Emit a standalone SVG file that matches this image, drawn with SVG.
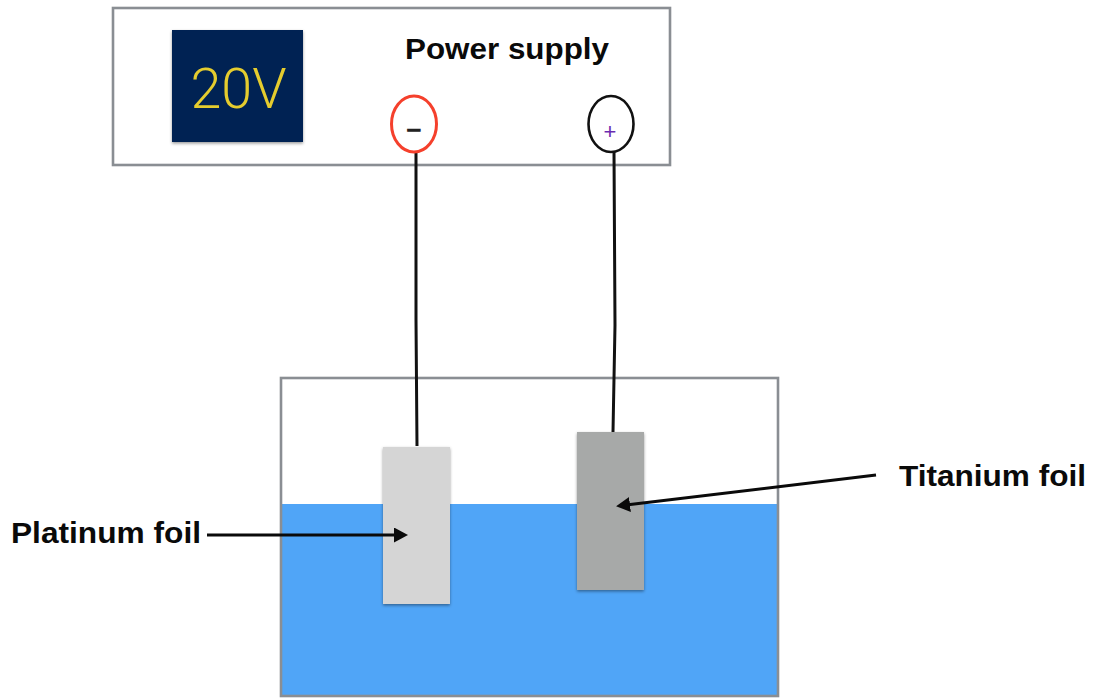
<svg xmlns="http://www.w3.org/2000/svg" width="1107" height="698" viewBox="0 0 1107 698">
<style>
.lbl{font-family:"Liberation Sans",Arial,sans-serif;font-weight:700;fill:#0a0a0a}
.frame{fill:none;stroke:#8a8e93;stroke-width:2.6}
.wire{fill:none;stroke:#111;stroke-width:3}
.arrow{fill:none;stroke:#0a0a0a;stroke-width:3}
</style>
<defs>
<filter id="sh" x="-20%" y="-20%" width="140%" height="140%"><feDropShadow dx="0" dy="1.5" stdDeviation="1.5" flood-color="#000" flood-opacity="0.4"/></filter>
<marker id="ah" markerUnits="userSpaceOnUse" markerWidth="16" markerHeight="16" refX="4" refY="7.5" orient="auto"><path d="M0 0L14 7.5L0 15Z" fill="#0a0a0a"/></marker>
</defs>
<rect width="1107" height="698" fill="#fff"/>
<g id="power-supply">
<rect class="frame" x="113" y="8" width="557" height="157"/>
<text class="lbl" x="507" y="59" font-size="30" text-anchor="middle" textLength="204" lengthAdjust="spacingAndGlyphs">Power supply</text>
</g>
<g id="display">
<rect x="172" y="30" width="131" height="112" fill="#012352" filter="url(#sh)"/>
<text x="238.500" y="108" font-family="Roboto,'Liberation Sans',sans-serif" font-weight="300" font-size="56" fill="#e5cc2e" text-anchor="middle" textLength="96" lengthAdjust="spacingAndGlyphs">20V</text>
</g>
<g id="tank">
<rect x="281" y="504" width="497" height="191" fill="#50a5f7"/>
<rect class="frame" x="281" y="378" width="497" height="318"/>
</g>
<g id="platinum-foil">
<rect x="383" y="447" width="67" height="157" fill="#d5d5d5" filter="url(#sh)"/>
</g>
<g id="titanium-foil">
<rect x="577" y="432" width="67" height="158" fill="#a7a9a8" filter="url(#sh)"/>
</g>
<g id="connectors">
<path class="wire" d="M416 152V320L417 446"/>
<path class="wire" d="M614 152L615 325L613 432"/>
<path class="arrow" d="M207 535H398" marker-end="url(#ah)"/>
<path class="arrow" d="M876 475L626 505" marker-end="url(#ah)"/>
</g>
<g id="negative-terminal">
<ellipse cx="414" cy="124" rx="22.500" ry="28" fill="#fff" stroke="#f5402c" stroke-width="3"/>
<text x="414" y="139" font-family="'Liberation Sans',Arial,sans-serif" font-weight="700" font-size="27" fill="#222" text-anchor="middle">−</text>
</g>
<g id="positive-terminal">
<ellipse cx="611" cy="124" rx="22.500" ry="28" fill="#fff" stroke="#111" stroke-width="2.600"/>
<text x="610" y="139" font-family="'Liberation Sans',Arial,sans-serif" font-size="22" fill="#6a2bb0" text-anchor="middle">+</text>
</g>
<g id="platinum-label"><text class="lbl" x="11" y="543" font-size="30" textLength="190" lengthAdjust="spacingAndGlyphs">Platinum foil</text></g>
<g id="titanium-label"><text class="lbl" x="899" y="486" font-size="30" textLength="187" lengthAdjust="spacingAndGlyphs">Titanium foil</text></g>
</svg>
